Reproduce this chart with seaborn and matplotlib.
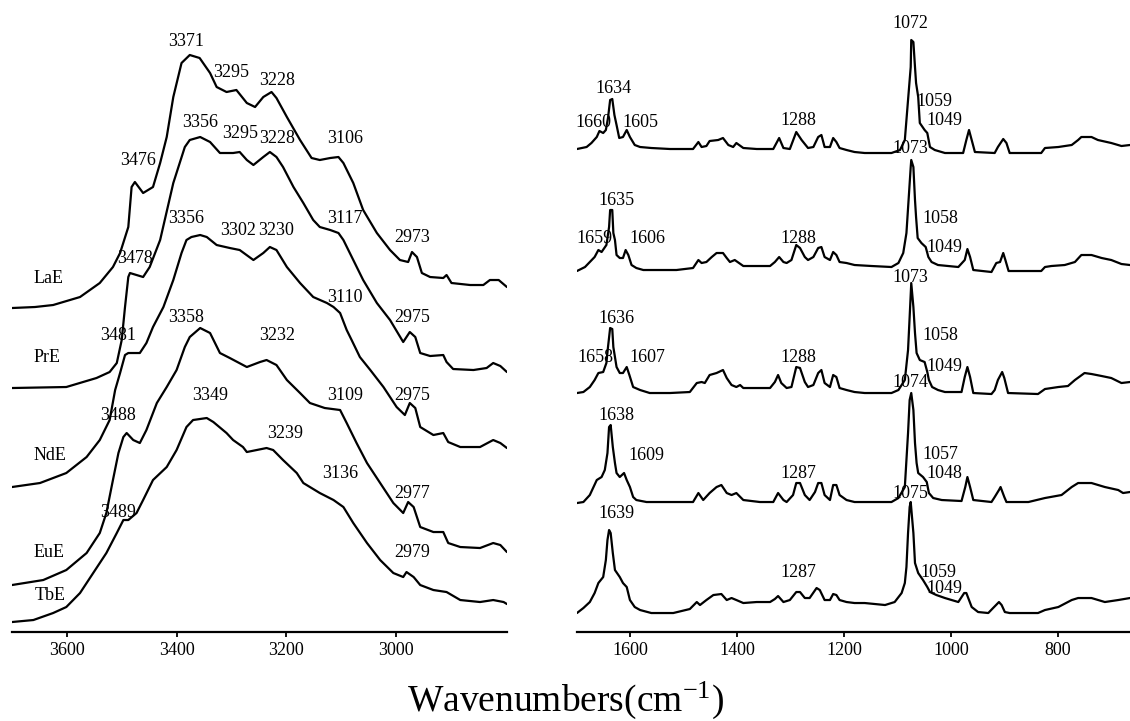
import matplotlib
matplotlib.use("Agg")
import matplotlib.pyplot as plt
import seaborn as sns

# Spectra: wavenumber (cm-1) and stacked intensity (arb. units)
# ---- 3700-2800 cm-1 region ----
lae_oh_wn = [3700, 3658, 3625, 3576, 3540, 3516, 3503, 3488, 3482, 3476, 3461, 3443, 3430, 3418, 3406,
             3391, 3376, 3358, 3339, 3327, 3309, 3291, 3272, 3257, 3242, 3227, 3218, 3199, 3175, 3154,
             3139, 3120, 3105, 3096, 3078, 3060, 3035, 3011, 2993, 2978, 2971, 2962, 2953, 2938, 2914,
             2908, 2899, 2865, 2841, 2829, 2813, 2798]
lae_oh_int = [324, 325, 327, 335, 349, 365, 379, 405, 445, 450, 439, 445, 469, 495, 535,
              569, 577, 574, 559, 545, 540, 542, 529, 525, 535, 540, 534, 515, 492, 474,
              472, 474, 475, 469, 449, 422, 399, 382, 372, 370, 380, 375, 359, 355, 354,
              357, 349, 347, 347, 352, 352, 345]

pre_oh_wn = [3700, 3601, 3546, 3522, 3509, 3500, 3494, 3488, 3485, 3461, 3449, 3430, 3406, 3385, 3376,
             3357, 3339, 3321, 3297, 3285, 3272, 3260, 3242, 3230, 3218, 3206, 3187, 3169, 3151, 3139,
             3120, 3105, 3096, 3078, 3060, 3035, 3011, 2987, 2975, 2965, 2956, 2938, 2914, 2908, 2896,
             2859, 2835, 2823, 2810, 2798]
pre_oh_int = [244, 245, 254, 260, 269, 292, 325, 355, 359, 355, 365, 392, 449, 485, 492,
              495, 490, 479, 479, 480, 472, 467, 475, 480, 475, 465, 445, 429, 412, 405,
              402, 399, 392, 372, 352, 329, 312, 290, 300, 295, 279, 276, 277, 270, 263,
              262, 264, 269, 266, 260]

nde_oh_wn = [3700, 3649, 3601, 3564, 3540, 3522, 3512, 3503, 3494, 3488, 3467, 3455, 3443, 3424, 3406,
             3391, 3382, 3373, 3357, 3345, 3327, 3303, 3285, 3260, 3242, 3230, 3218, 3199, 3175, 3151,
             3126, 3114, 3102, 3090, 3081, 3066, 3047, 3023, 2999, 2984, 2975, 2965, 2956, 2932, 2914,
             2905, 2883, 2847, 2823, 2810, 2798]
nde_oh_int = [145, 149, 159, 175, 192, 212, 242, 259, 277, 279, 279, 289, 305, 325, 352,
              379, 392, 395, 397, 395, 387, 384, 382, 372, 379, 385, 382, 365, 349, 335,
              329, 325, 319, 302, 292, 275, 262, 245, 225, 217, 229, 224, 205, 197, 199,
              190, 185, 185, 192, 189, 184]

eue_oh_wn = [3700, 3643, 3601, 3564, 3540, 3528, 3516, 3506, 3497, 3491, 3479, 3467, 3455, 3436, 3418,
             3400, 3385, 3376, 3357, 3339, 3321, 3303, 3272, 3248, 3236, 3218, 3199, 3175, 3157, 3130,
             3102, 3090, 3072, 3053, 3029, 3005, 2987, 2978, 2968, 2956, 2932, 2914, 2905, 2883, 2847,
             2823, 2810, 2798]
eue_oh_int = [47, 52, 62, 79, 99, 119, 152, 179, 195, 199, 192, 189, 202, 229, 245,
              262, 285, 295, 304, 299, 279, 274, 265, 270, 272, 267, 252, 239, 229, 224,
              222, 209, 189, 169, 149, 129, 119, 130, 125, 105, 100, 100, 89, 85, 84,
              89, 87, 80]

tbe_oh_wn = [3700, 3661, 3625, 3601, 3576, 3552, 3528, 3509, 3497, 3488, 3473, 3461, 3443, 3418, 3400,
             3382, 3370, 3345, 3333, 3309, 3297, 3279, 3272, 3254, 3236, 3224, 3206, 3181, 3169, 3139,
             3114, 3096, 3078, 3053, 3029, 3005, 2987, 2981, 2968, 2956, 2932, 2908, 2883, 2847, 2823,
             2804, 2798]
tbe_oh_int = [10, 12, 19, 25, 39, 59, 79, 99, 112, 112, 119, 132, 152, 165, 182,
              205, 212, 214, 210, 199, 192, 185, 180, 182, 184, 182, 172, 159, 149, 139,
              132, 125, 109, 89, 72, 59, 55, 60, 55, 47, 42, 40, 32, 30, 32,
              30, 28]

# ---- 1700-665 cm-1 region ----
lae_fp_wn = [1699, 1681, 1672, 1662, 1657, 1650, 1645, 1641, 1637, 1633, 1629, 1625, 1620, 1613, 1606,
             1600, 1591, 1581, 1560, 1525, 1482, 1472, 1466, 1457, 1451, 1435, 1426, 1416, 1407, 1401,
             1388, 1363, 1332, 1321, 1313, 1301, 1289, 1279, 1267, 1257, 1248, 1242, 1236, 1226, 1220,
             1214, 1208, 1195, 1180, 1161, 1111, 1095, 1086, 1080, 1075, 1074, 1070, 1067, 1065, 1061,
             1058, 1049, 1044, 1039, 1030, 1011, 977, 971, 966, 961, 955, 918, 912, 902, 896,
             890, 831, 824, 799, 774, 762, 756, 737, 725, 700, 681, 665]
lae_fp_int = [483, 485, 489, 495, 501, 499, 502, 514, 532, 533, 517, 507, 494, 495, 502,
              495, 487, 485, 484, 483, 483, 490, 485, 486, 491, 492, 494, 487, 485, 489,
              484, 483, 483, 494, 484, 483, 500, 492, 484, 485, 495, 497, 485, 485, 494,
              490, 484, 482, 480, 479, 479, 482, 492, 532, 565, 592, 590, 565, 549, 535,
              509, 502, 499, 485, 482, 479, 479, 492, 502, 492, 480, 479, 485, 493, 489,
              479, 479, 484, 485, 487, 492, 495, 495, 492, 489, 486, 487]

pre_fp_wn = [1699, 1684, 1675, 1666, 1659, 1653, 1644, 1639, 1637, 1633, 1631, 1628, 1625, 1619, 1613,
             1608, 1603, 1597, 1588, 1575, 1513, 1482, 1472, 1466, 1457, 1447, 1438, 1426, 1419, 1413,
             1404, 1388, 1338, 1329, 1321, 1313, 1307, 1298, 1289, 1282, 1273, 1267, 1257, 1248, 1242,
             1236, 1226, 1220, 1214, 1208, 1195, 1180, 1148, 1111, 1098, 1089, 1083, 1079, 1075, 1074,
             1070, 1067, 1065, 1062, 1055, 1047, 1042, 1036, 1024, 986, 974, 969, 964, 958, 924,
             915, 908, 902, 898, 892, 831, 824, 812, 787, 768, 756, 737, 718, 700, 681,
             665]
pre_fp_int = [361, 365, 370, 375, 382, 380, 387, 405, 422, 422, 399, 392, 377, 374, 374,
              382, 377, 367, 364, 362, 362, 364, 372, 369, 370, 375, 379, 379, 374, 370,
              372, 366, 366, 370, 375, 370, 369, 372, 387, 384, 375, 372, 375, 384, 385,
              375, 372, 380, 377, 370, 369, 367, 366, 365, 369, 379, 399, 432, 465, 472,
              465, 432, 415, 394, 389, 385, 375, 370, 367, 365, 372, 383, 375, 362, 360,
              369, 370, 379, 372, 361, 361, 365, 366, 367, 370, 377, 377, 374, 372, 368,
              367]

nde_fp_wn = [1699, 1687, 1675, 1666, 1659, 1650, 1644, 1641, 1637, 1633, 1631, 1628, 1625, 1619, 1613,
             1606, 1601, 1594, 1581, 1563, 1525, 1488, 1475, 1466, 1460, 1451, 1438, 1426, 1419, 1410,
             1401, 1394, 1388, 1338, 1329, 1323, 1317, 1307, 1298, 1289, 1282, 1273, 1267, 1257, 1248,
             1242, 1236, 1226, 1220, 1214, 1208, 1195, 1180, 1161, 1111, 1098, 1086, 1080, 1077, 1074,
             1070, 1067, 1064, 1058, 1049, 1044, 1041, 1035, 1024, 1011, 980, 974, 969, 964, 958,
             924, 918, 912, 904, 900, 893, 837, 824, 799, 781, 768, 750, 737, 718, 700,
             681, 665]
nde_fp_int = [239, 240, 245, 252, 259, 260, 269, 285, 304, 303, 285, 275, 265, 259, 259,
              265, 257, 245, 242, 239, 239, 240, 249, 250, 249, 257, 259, 262, 254, 247,
              245, 247, 244, 244, 250, 257, 249, 244, 245, 265, 264, 250, 245, 247, 259,
              262, 249, 245, 257, 255, 244, 242, 240, 239, 239, 242, 252, 282, 315, 349,
              325, 299, 279, 272, 270, 260, 252, 245, 242, 240, 240, 255, 265, 255, 239,
              238, 242, 252, 260, 254, 239, 238, 243, 245, 246, 252, 259, 258, 256, 254,
              249, 250]

eue_fp_wn = [1699, 1687, 1675, 1662, 1653, 1647, 1642, 1639, 1636, 1632, 1628, 1625, 1619, 1611, 1606,
             1600, 1594, 1588, 1569, 1482, 1472, 1463, 1451, 1438, 1429, 1419, 1410, 1401, 1388, 1357,
             1332, 1323, 1313, 1307, 1295, 1289, 1282, 1273, 1264, 1254, 1248, 1242, 1236, 1226, 1220,
             1214, 1208, 1195, 1180, 1142, 1111, 1098, 1086, 1080, 1077, 1074, 1070, 1067, 1064, 1061,
             1052, 1045, 1041, 1033, 1017, 980, 973, 969, 964, 958, 924, 918, 910, 907, 900,
             896, 855, 824, 793, 774, 762, 737, 712, 687, 678, 665]
eue_fp_int = [129, 130, 137, 152, 155, 162, 179, 205, 207, 185, 169, 159, 155, 159, 152,
              145, 135, 132, 130, 130, 139, 132, 139, 145, 147, 139, 137, 139, 132, 130,
              130, 139, 132, 130, 137, 149, 149, 137, 132, 140, 149, 149, 137, 132, 147,
              147, 137, 132, 130, 130, 130, 134, 145, 199, 232, 239, 222, 189, 169, 159,
              155, 150, 139, 134, 132, 131, 145, 155, 145, 132, 130, 135, 142, 145, 135,
              130, 130, 134, 137, 145, 149, 149, 145, 142, 139, 140]

tbe_fp_wn = [1699, 1687, 1675, 1666, 1659, 1650, 1645, 1642, 1639, 1636, 1632, 1628, 1619, 1613, 1606,
             1600, 1591, 1581, 1560, 1519, 1488, 1475, 1469, 1457, 1444, 1429, 1419, 1410, 1401, 1388,
             1363, 1338, 1329, 1323, 1313, 1301, 1289, 1282, 1273, 1264, 1251, 1245, 1236, 1226, 1220,
             1214, 1208, 1195, 1180, 1161, 1123, 1105, 1092, 1086, 1083, 1080, 1077, 1075, 1070, 1067,
             1061, 1052, 1044, 1039, 1027, 1011, 986, 975, 971, 966, 961, 949, 930, 921, 910,
             905, 899, 890, 837, 824, 799, 774, 762, 737, 712, 687, 665]
tbe_fp_int = [19, 24, 30, 39, 49, 55, 72, 92, 102, 99, 79, 62, 55, 49, 45,
              32, 25, 22, 19, 19, 23, 30, 27, 32, 37, 38, 32, 34, 32, 29,
              30, 30, 33, 36, 30, 32, 40, 40, 34, 34, 44, 42, 32, 32, 38,
              37, 32, 30, 29, 29, 27, 30, 39, 49, 65, 99, 125, 130, 99, 69,
              59, 52, 45, 40, 37, 34, 30, 39, 39, 32, 25, 20, 19, 24, 30,
              27, 20, 19, 19, 22, 25, 32, 34, 34, 30, 32, 34]

sample_names = ["LaE", "PrE", "NdE", "EuE", "TbE"]
sample_pos = [(3634, 354), (3636, 275), (3631, 177), (3633, 80), (3631, 37)]

# peak labels: (text, wavenumber position, height position)
oh_labels = [("3371", 3383, 591), ("3295", 3300, 560), ("3228", 3216, 552), ("3476", 3470, 472),
             ("3356", 3357, 510), ("3295", 3285, 499), ("3228", 3216, 494), ("3106", 3093, 494),
             ("3356", 3382, 414), ("3302", 3288, 402), ("3230", 3218, 402), ("3117", 3093, 414),
             ("2973", 2970, 395), ("3478", 3476, 374), ("3110", 3093, 335), ("2975", 2970, 315),
             ("3358", 3382, 315), ("3481", 3506, 297), ("3232", 3216, 297), ("3349", 3339, 237),
             ("3109", 3093, 237), ("2975", 2970, 237), ("3488", 3506, 217), ("3239", 3202, 199),
             ("3136", 3102, 159), ("2977", 2970, 139), ("3489", 3506, 120), ("2979", 2970, 80)]
fp_labels = [("1634", 1631, 544), ("1660", 1668, 510), ("1605", 1581, 510), ("1288", 1285, 512),
             ("1635", 1625, 432), ("1659", 1667, 394), ("1606", 1568, 394), ("1288", 1285, 394),
             ("1636", 1625, 314), ("1658", 1665, 275), ("1607", 1568, 275), ("1288", 1285, 275),
             ("1638", 1625, 217), ("1609", 1570, 177), ("1287", 1285, 159),
             ("1639", 1625, 119), ("1287", 1285, 60),
             ("1072", 1076, 609), ("1059", 1031, 531), ("1049", 1012, 512),
             ("1073", 1075, 484), ("1058", 1020, 414), ("1049", 1012, 385),
             ("1073", 1075, 355), ("1058", 1020, 297), ("1049", 1012, 266),
             ("1074", 1075, 250), ("1057", 1020, 178), ("1048", 1012, 159),
             ("1075", 1075, 139), ("1059", 1023, 60), ("1049", 1012, 44)]

sns.set_style("white")
plt.rcParams['font.family'] = ['Liberation Serif', 'DejaVu Serif']
plt.rcParams['mathtext.fontset'] = 'custom'
plt.rcParams['mathtext.rm'] = 'Liberation Serif'
plt.rcParams['mathtext.it'] = 'Liberation Serif:italic'
plt.rcParams['text.color'] = 'black'
plt.rcParams['xtick.color'] = 'black'

fig = plt.figure(figsize=(11.3, 7.21), dpi=100)
ax1 = fig.add_axes([0.0106, 0.1234, 0.438, 0.8766])
ax2 = fig.add_axes([0.5106, 0.1234, 0.4894, 0.8766])

oh_series = [(lae_oh_wn, lae_oh_int), (pre_oh_wn, pre_oh_int), (nde_oh_wn, nde_oh_int),
             (eue_oh_wn, eue_oh_int), (tbe_oh_wn, tbe_oh_int)]
fp_series = [(lae_fp_wn, lae_fp_int), (pre_fp_wn, pre_fp_int), (nde_fp_wn, nde_fp_int),
             (eue_fp_wn, eue_fp_int), (tbe_fp_wn, tbe_fp_int)]

for wn, inten in oh_series:
    sns.lineplot(x=wn, y=inten, ax=ax1, color="black", lw=1.6, sort=False, estimator=None)
for wn, inten in fp_series:
    sns.lineplot(x=wn, y=inten, ax=ax2, color="black", lw=1.6, sort=False, estimator=None)

for name, (x, y) in zip(sample_names, sample_pos):
    ax1.text(x, y, name, ha="center", va="center", fontsize=13, color="black")
for txt, x, y in oh_labels:
    ax1.text(x, y, txt, ha="center", va="center", fontsize=13, color="black")
for txt, x, y in fp_labels:
    ax2.text(x, y, txt, ha="center", va="center", fontsize=13, color="black")

ax1.set_xlim(3700, 2798)
ax2.set_xlim(1699, 665)
ax1.set_xticks([3600, 3400, 3200, 3000])
ax2.set_xticks([1600, 1400, 1200, 1000, 800])

for ax in (ax1, ax2):
    ax.set_ylim(0, 632)
    ax.set_yticks([])
    ax.set_xlabel("")
    ax.set_ylabel("")
    sns.despine(ax=ax, left=True)
    ax.spines["bottom"].set_linewidth(1.6)
    ax.spines["bottom"].set_color("black")
    ax.tick_params(axis="x", direction="out", length=3.5, width=1.3, colors="black",
                   labelsize=13, pad=4, bottom=True)
    ax.patch.set_alpha(0)

fig.text(0.5, 0.0139, r"Wavenumbers(cm$^{\mathrm{-1}}$)", ha="center", va="baseline",
         fontsize=27, color="black")

fig.savefig("out.png", dpi=100)
